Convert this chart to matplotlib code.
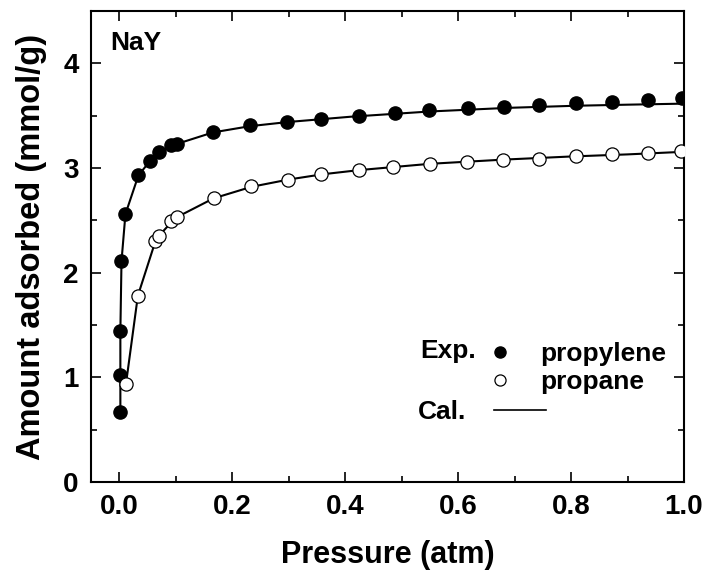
import matplotlib
matplotlib.use("Agg")
import matplotlib.pyplot as plt
from matplotlib.lines import Line2D
from matplotlib.ticker import MultipleLocator

plt.rcParams['font.family'] = ['Liberation Sans', 'DejaVu Sans']
plt.rcParams['font.weight'] = 'bold'

# Experimental data (pressure atm, amount mmol/g)
propylene_p = [0.002, 0.002, 0.002, 0.004, 0.011, 0.034, 0.055, 0.071, 0.092, 0.102,
               0.166, 0.232, 0.297, 0.357, 0.424, 0.488, 0.549, 0.618, 0.681, 0.744,
               0.809, 0.873, 0.937, 0.996]
propylene_q = [0.67, 1.02, 1.44, 2.11, 2.56, 2.93, 3.07, 3.15, 3.22, 3.23,
               3.34, 3.41, 3.44, 3.47, 3.50, 3.53, 3.55, 3.57, 3.58, 3.60,
               3.62, 3.635, 3.65, 3.67]
propane_p = [0.012, 0.033, 0.064, 0.070, 0.092, 0.102, 0.167, 0.234, 0.299, 0.357,
             0.425, 0.485, 0.551, 0.616, 0.680, 0.744, 0.808, 0.873, 0.936, 0.995]
propane_q = [0.94, 1.78, 2.30, 2.35, 2.49, 2.53, 2.71, 2.83, 2.89, 2.94,
             2.98, 3.01, 3.04, 3.06, 3.08, 3.09, 3.11, 3.13, 3.14, 3.16]

# Calculated curves
cal_propylene_p = [0.002, 0.002, 0.002, 0.004, 0.011, 0.034, 0.055, 0.071, 0.092, 0.102,
                   0.166, 0.232, 0.30, 0.41, 0.55, 0.69, 0.81, 0.90, 1.0]
cal_propylene_q = [0.67, 1.02, 1.44, 2.11, 2.56, 2.93, 3.07, 3.15, 3.21, 3.23,
                   3.34, 3.40, 3.44, 3.49, 3.54, 3.575, 3.595, 3.605, 3.615]
cal_propane_p = [0.012, 0.033, 0.064, 0.070, 0.092, 0.102, 0.167, 0.234, 0.30, 0.36,
                 0.425, 0.55, 0.68, 0.80, 0.90, 1.0]
cal_propane_q = [0.94, 1.78, 2.30, 2.35, 2.48, 2.53, 2.71, 2.82, 2.89, 2.94,
                 2.98, 3.04, 3.08, 3.11, 3.13, 3.155]

x_ticks = [0.0, 0.2, 0.4, 0.6, 0.8, 1.0]
x_tick_labels = ['0.0', '0.2', '0.4', '0.6', '0.8', '1.0']
y_ticks = [0, 1, 2, 3, 4]

fig = plt.figure(figsize=(7.08, 5.74), dpi=100)
ax = fig.add_axes([91/708, 92/574, (684-91)/708, (482-11)/574])

ax.plot(cal_propylene_p, cal_propylene_q, color='black', lw=1.5, zorder=2)
ax.plot(cal_propane_p, cal_propane_q, color='black', lw=1.5, zorder=2)
ax.plot(propylene_p, propylene_q, 'o', color='black', ms=9.5, mec='black', zorder=3)
ax.plot(propane_p, propane_q, 'o', mfc='white', mec='black', mew=0.9, ms=9.5, zorder=3)

ax.set_xlim(-0.05, 1.0)
ax.set_ylim(0, 4.5)
ax.set_xticks(x_ticks)
ax.set_xticklabels(x_tick_labels)
ax.set_yticks(y_ticks)
ax.xaxis.set_minor_locator(MultipleLocator(0.1))
ax.yaxis.set_minor_locator(MultipleLocator(0.5))
ax.tick_params(which='both', direction='in', top=True, right=True, width=1.2,
               labelsize=20)
ax.tick_params(which='major', length=7.5, pad=9)
ax.tick_params(which='minor', length=4)
for lab in ax.get_xticklabels() + ax.get_yticklabels():
    lab.set_fontweight('bold')
for s in ax.spines.values():
    s.set_linewidth(1.5)

ax.set_xlabel('Pressure (atm)', fontsize=22, fontweight='bold')
ax.xaxis.set_label_coords(0.5, -0.123)
ax.set_ylabel('Amount adsorbed (mmol/g)', fontsize=23.5, fontweight='bold')
ax.yaxis.set_label_coords((47 - 91) / 593, 0.5)

ax.text(0.032, 0.932, 'NaY', transform=ax.transAxes, fontsize=19, fontweight='bold',
        va='center')

# legend
h_fill = Line2D([], [], ls='none', marker='o', color='black', ms=8)
h_open = Line2D([], [], ls='none', marker='o', mfc='white', mec='black', mew=0.9, ms=8)
leg1 = ax.legend([h_fill, h_open], ['propylene', 'propane'], loc='upper left',
                 bbox_to_anchor=(0.668, 0.297), frameon=False,
                 handlelength=1.0, handletextpad=1.0, labelspacing=0.15,
                 borderaxespad=0, borderpad=0, prop={'weight': 'bold', 'size': 19})
ax.add_artist(leg1)
h_line = Line2D([], [], color='black', lw=1.2)
leg2 = ax.legend([h_line], [''], loc='center left', bbox_to_anchor=(0.68, 0.148),
                 frameon=False, handlelength=1.95, borderaxespad=0, borderpad=0,
                 handletextpad=0, prop={'weight': 'bold', 'size': 19})
ax.text(0.555, 0.278, 'Exp.', transform=ax.transAxes, fontsize=19, fontweight='bold',
        va='center')
ax.text(0.552, 0.148, 'Cal.', transform=ax.transAxes, fontsize=19, fontweight='bold',
        va='center')

fig.savefig('out.png', dpi=100)
